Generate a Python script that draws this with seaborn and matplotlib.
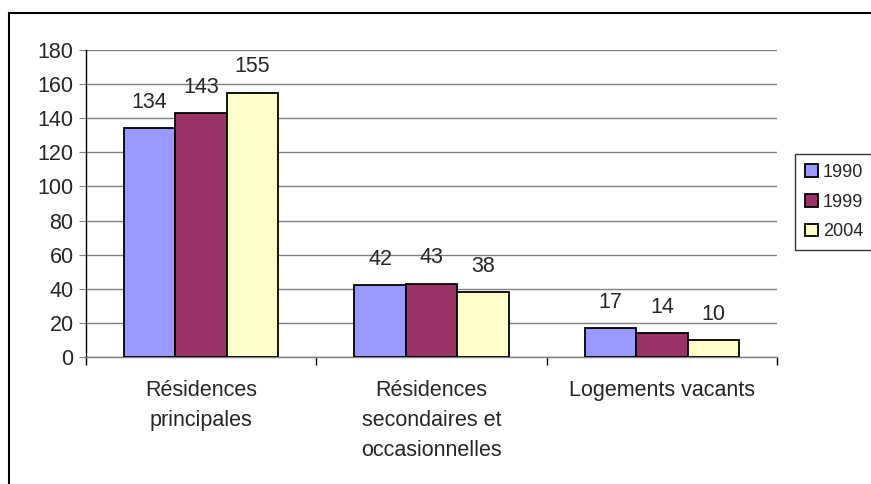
import numpy as np
import pandas as pd
import seaborn as sns
import matplotlib.pyplot as plt
from matplotlib.lines import Line2D

categories = ["Résidences\nprincipales", "Résidences\nsecondaires et\noccasionnelles", "Logements vacants"]
years = ["1990", "1999", "2004"]
v1990 = [134, 42, 17]
v1999 = [143, 43, 14]
v2004 = [155, 38, 10]
colors = ["#9999FF", "#993366", "#FFFFCC"]

df = pd.DataFrame({
    "cat": categories * 3,
    "year": [y for y in years for _ in categories],
    "val": v1990 + v1999 + v2004,
})

sns.set_style("white")
plt.rcParams['font.family'] = ['Liberation Sans', 'DejaVu Sans']

fig = plt.figure(figsize=(8.71, 4.84), dpi=100)
ax = fig.add_axes([86 / 871, 1 - 357 / 484, (777 - 86) / 871, (357 - 50) / 484])

sns.barplot(data=df, x="cat", y="val", hue="year", palette=colors, width=0.67,
            edgecolor="black", linewidth=1.3, saturation=1, ax=ax, zorder=3)

for c in ax.containers:
    ax.bar_label(c, padding=11, fontsize=15.5)

ax.set_ylim(0, 180)
ax.set_yticks(np.arange(0, 181, 20))
ax.set_xlim(-0.5, 2.5)
ax.yaxis.grid(True, color="#808080", linewidth=1)
ax.set_axisbelow(True)
ax.set_xlabel("")
ax.set_ylabel("")

for s in ["top", "right"]:
    ax.spines[s].set_visible(False)
ax.spines["left"].set_color("black")
ax.spines["bottom"].set_color("#808080")
ax.spines["left"].set_linewidth(1)
ax.spines["bottom"].set_linewidth(1)

ax.tick_params(axis="y", left=True, length=5, color="#808080", labelsize=15.5, pad=4)
ax.tick_params(axis="x", bottom=False, labelsize=15.5, pad=13)
for lab in ax.get_xticklabels():
    lab.set_linespacing(1.55)
ax.set_xticks([-0.5, 0.5, 1.5, 2.5], minor=True)
ax.tick_params(axis="x", which="minor", bottom=True, length=6, color="black", width=1)

ax.legend(loc="upper left", bbox_to_anchor=(795 / 871, 1 - 154 / 484), bbox_transform=fig.transFigure,
          frameon=True, fancybox=False, edgecolor="black", fontsize=13, handlelength=0.7,
          handleheight=0.7, handletextpad=0.3, labelspacing=0.7, borderpad=0.55, borderaxespad=0)
ax.get_legend().get_frame().set_linewidth(1)

fig.add_artist(Line2D([9 / 871, 9 / 871], [0, 1 - 13 / 484], color="black", linewidth=1.5))
fig.add_artist(Line2D([9 / 871, 1], [1 - 13 / 484, 1 - 13 / 484], color="black", linewidth=1.5))

fig.savefig("out.png", dpi=100)
